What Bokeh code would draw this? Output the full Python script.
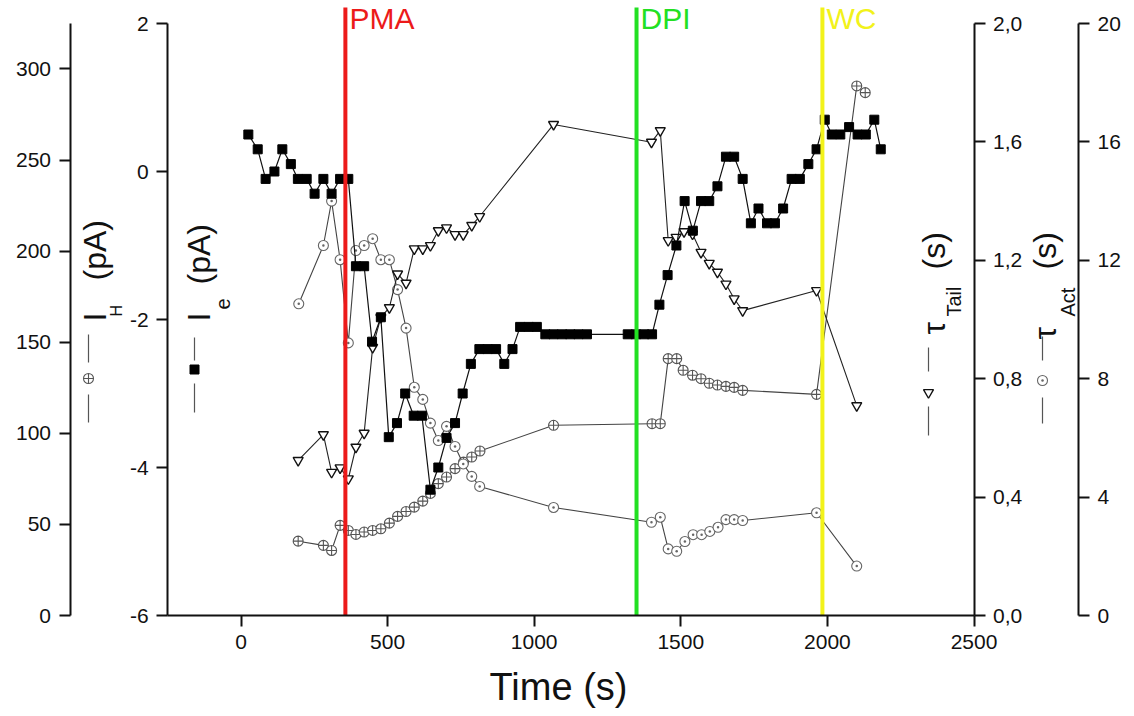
import math
from bokeh.plotting import figure
from bokeh.models import Range1d, LinearAxis, FixedTicker, Label
from bokeh.embed import file_html
from bokeh.resources import INLINE

# ---------------- data ----------------
ie_time = [25, 57, 84, 114, 141, 170, 194, 224, 251, 281, 309, 338, 366, 392, 420, 447, 477, 504,
           532, 560, 589, 617, 646, 673, 701, 730, 756, 784, 813, 841, 870, 898, 926, 952, 981,
           1009, 1038, 1066, 1095, 1123, 1151, 1180, 1319, 1347, 1375, 1402, 1427, 1455, 1485,
           1513, 1541, 1569, 1597, 1625, 1654, 1682, 1711, 1739, 1765, 1794, 1821, 1849, 1878,
           1906, 1935, 1963, 1991, 2015, 2044, 2074, 2103, 2131, 2160, 2182]
ie_pa = [0.5, 0.3, -0.1, 0.0, 0.3, 0.1, -0.1, -0.1, -0.3, -0.1, -0.3, -0.1, -0.1, -1.28, -1.28,
         -2.3, -1.97, -3.59, -3.4, -3.0, -3.3, -3.3, -4.3, -4.0, -3.6, -3.4, -3.0, -2.6, -2.4,
         -2.4, -2.4, -2.6, -2.4, -2.1, -2.1, -2.1, -2.2, -2.2, -2.2, -2.2, -2.2, -2.2, -2.2, -2.2,
         -2.2, -2.2, -1.8, -1.4, -1.0, -0.4, -0.8, -0.4, -0.4, -0.2, 0.2, 0.2, -0.1, -0.7, -0.5,
         -0.7, -0.7, -0.5, -0.1, -0.1, 0.1, 0.3, 0.7, 0.5, 0.5, 0.6, 0.5, 0.5, 0.7, 0.3]

ih_time = [195, 281, 309, 338, 366, 392, 420, 449, 477, 506, 534, 563, 591, 620, 646, 673, 701,
           730, 759, 787, 815, 1066, 1402, 1430, 1457, 1486, 1508, 1540, 1569, 1597, 1625, 1654,
           1682, 1711, 1963, 2100, 2129]
ih_pa = [40.8, 38.5, 35.7, 49.5, 46.7, 44.5, 45.8, 46.7, 47.6, 50.7, 54.4, 57.1, 59.5, 62.8, 67.0,
         72.4, 76.0, 80.6, 84.2, 87.0, 90.3, 104.4, 105.3, 105.3, 141.0, 141.0, 134.6, 131.9,
         130.0, 127.5, 126.5, 125.8, 125.2, 123.6, 121.4, 290.7, 287.0]

tail_time = [195, 281, 309, 338, 366, 392, 420, 449, 477, 506, 534, 563, 591, 620, 646, 673, 701,
             730, 758, 787, 814, 1066, 1400, 1430, 1457, 1484, 1511, 1540, 1569, 1597, 1625, 1654,
             1682, 1711, 1963, 2100]
tail_s = [0.524, 0.611, 0.484, 0.499, 0.462, 0.569, 0.616, 0.906, 1.007, 1.04, 1.154, 1.123,
          1.239, 1.239, 1.25, 1.30, 1.31, 1.287, 1.287, 1.318, 1.348, 1.659, 1.599, 1.638, 1.267,
          1.278, 1.297, 1.289, 1.227, 1.19, 1.16, 1.12, 1.07, 1.03, 1.098, 0.709]

act_time = [197, 281, 309, 338, 366, 392, 420, 449, 477, 506, 534, 563, 591, 620, 646, 673, 701,
            730, 758, 787, 814, 1066, 1400, 1430, 1457, 1486, 1514, 1542, 1571, 1599, 1627, 1654,
            1682, 1711, 1963, 2100]
act_s = [10.53, 12.5, 14.0, 12.02, 9.21, 12.33, 12.5, 12.73, 12.02, 12.02, 11.01, 9.71, 7.71,
         7.30, 6.50, 5.91, 6.39, 5.71, 5.12, 4.70, 4.36, 3.65, 3.15, 3.32, 2.25, 2.17, 2.50, 2.73,
         2.73, 2.84, 2.98, 3.24, 3.24, 3.21, 3.47, 1.67]

event_names = ["PMA", "DPI", "WC"]
event_times = [356, 1349, 1983]
event_colors = ["#ec1a1a", "#22e022", "#f2f21a"]

x_ticks = [0, 500, 1000, 1500, 2000, 2500]
ie_ticks = [-6, -4, -2, 0, 2]
ih_ticks = [0, 50, 100, 150, 200, 250, 300]
tail_ticks = [0.0, 0.4, 0.8, 1.2, 1.6, 2.0]
tail_labels = ["0,0", "0,4", "0,8", "1,2", "1,6", "2,0"]
act_ticks = [0, 4, 8, 12, 16, 20]

# ---------------- layout (page pixels -> data) ----------------
FONT = "Liberation Sans"
DESC = 0.212                       # font descent, in em
W, H = 1128, 714
X_ZERO_PX, XS = 240.5, 0.2932      # x = 0 at this pixel, px per second
BASE_PX = 615.0                    # pixel row of the bottom of every y axis
IE_S, IH_S, TT_S, TA_S = 74.0, 1.8217, 296.0, 29.6


def dx(px):
    return (px - X_ZERO_PX) / XS


def dy(py):
    return -6 + (BASE_PX - py) / IE_S


p = figure(width=W, height=H, output_backend="svg", toolbar_location=None,
           x_axis_type=None, y_axis_type=None,
           x_range=Range1d(dx(0), dx(W)), y_range=Range1d(dy(H), dy(0)),
           min_border=0, outline_line_color=None,
           background_fill_color="white", border_fill_color="white")
p.grid.visible = False
p.extra_y_ranges = {"ih": Range1d((BASE_PX - H) / IH_S, BASE_PX / IH_S),
                    "tt": Range1d((BASE_PX - H) / TT_S, BASE_PX / TT_S),
                    "ta": Range1d((BASE_PX - H) / TA_S, BASE_PX / TA_S)}


def make_axis(ticks, labels=None, **kw):
    ax = LinearAxis(**kw)
    ax.ticker = FixedTicker(ticks=ticks)
    labels = labels or [str(t) for t in ticks]
    ax.major_label_overrides = {t: l for t, l in zip(ticks, labels)}
    ax.major_label_text_font = FONT
    ax.major_label_text_font_size = "21px"
    ax.major_label_text_color = "#111111"
    ax.axis_line_width = 2
    ax.axis_line_color = "#111111"
    ax.major_tick_line_width = 2
    ax.major_tick_line_color = "#111111"
    ax.major_tick_out = 11
    ax.major_tick_in = 0
    ax.minor_tick_line_color = None
    ax.major_label_standoff = 8
    return ax


p.add_layout(make_axis(x_ticks, fixed_location=-6, bounds=(-250, 2500)), "below")
p.add_layout(make_axis(ie_ticks, fixed_location=-250, bounds=(-6, 2)), "left")
p.add_layout(make_axis(ih_ticks, y_range_name="ih", fixed_location=dx(69.5), bounds=(0, 325)), "left")
p.add_layout(make_axis(tail_ticks, tail_labels, y_range_name="tt", fixed_location=2500,
                       bounds=(0, 2)), "right")
p.add_layout(make_axis(act_ticks, y_range_name="ta", fixed_location=dx(1078), bounds=(0, 20)), "right")

# ---------------- series ----------------
p.line(ih_time, ih_pa, y_range_name="ih", line_color="#444444", line_width=1.1)
p.scatter(ih_time, ih_pa, y_range_name="ih", marker="circle_cross", size=10,
          line_color="#555555", fill_color="white", line_width=1.1)

p.line(act_time, act_s, y_range_name="ta", line_color="#444444", line_width=1.1)
p.scatter(act_time, act_s, y_range_name="ta", marker="circle_dot", size=10,
          line_color="#666666", fill_color="white", line_width=1.1)

p.line(tail_time, tail_s, y_range_name="tt", line_color="#222222", line_width=1.1)
p.scatter(tail_time, tail_s, y_range_name="tt", marker="inverted_triangle", size=10,
          line_color="#111111", fill_color="white", line_width=1.4)

p.line(ie_time, ie_pa, line_color="#111111", line_width=1.2)
p.scatter(ie_time, ie_pa, marker="square", size=9, line_color="black", fill_color="black")

# ---------------- event lines ----------------
p.segment(x0=event_times, y0=[-6] * 3, x1=event_times, y1=[dy(7)] * 3,
          line_color=event_colors, line_width=4)
for name, t, c in zip(event_names, event_times, event_colors):
    p.add_layout(Label(x=t, y=dy(34), x_offset=4, text=name, text_color=c,
                       text_font=FONT, text_font_size="30px", text_baseline="bottom"))


# ---------------- axis titles (rotated, baseline given in page px) ----------------
def rtext(base_px, start_py, txt, size, color="#111111"):
    anchor = base_px + DESC * size
    p.add_layout(Label(x=dx(anchor), y=dy(start_py), text=txt, angle=math.pi / 2,
                       text_font=FONT, text_font_size=f"{size}px", text_color=color,
                       text_align="left", text_baseline="bottom"))


rtext(106, 321, "I", 32)
rtext(121, 316, "H", 16)
rtext(106, 280, "(pA)", 32)

rtext(210, 321, "I", 32)
rtext(225, 309, "e", 20)
rtext(210, 284, "(pA)", 32)

rtext(945, 334, "\u03c4", 32)
rtext(960, 316, "Tail", 20)
rtext(945, 269, "(s)", 32)

rtext(1056, 339, "\u03c4", 32)
rtext(1074, 316, "Act", 20)
rtext(1056, 269, "(s)", 32)

p.add_layout(Label(x=dx(558), y=dy(699 + DESC * 38), text="Time (s)", text_font=FONT,
                   text_font_size="38px", text_align="center", text_baseline="bottom",
                   text_color="#111111"))

# ---------------- legend samples beside the titles ----------------
sample_px = [88, 194, 928, 1042]
seg_top = [(334, 362), (337, 360), (347, 371), (336, 360)]
seg_bot = [(394, 422), (383, 412), (406, 435), (397, 423)]
mark_py = [378, 369, 392, 380]
for x, a, b in zip(sample_px, seg_top, seg_bot):
    p.segment(x0=[dx(x)] * 2, y0=[dy(a[0]), dy(b[0])], x1=[dx(x)] * 2, y1=[dy(a[1]), dy(b[1])],
              line_color="#555555", line_width=1.2)
p.scatter([dx(sample_px[0])], [dy(mark_py[0])], marker="circle_cross", size=10,
          line_color="#555555", fill_color="white", line_width=1.1)
p.scatter([dx(sample_px[1])], [dy(mark_py[1])], marker="square", size=9,
          line_color="black", fill_color="black")
p.scatter([dx(sample_px[2])], [dy(mark_py[2])], marker="inverted_triangle", size=10,
          line_color="#111111", fill_color="white", line_width=1.4)
p.scatter([dx(sample_px[3])], [dy(mark_py[3])], marker="circle_dot", size=10,
          line_color="#666666", fill_color="white", line_width=1.1)

open("out.html", "w").write(file_html(p, INLINE))
